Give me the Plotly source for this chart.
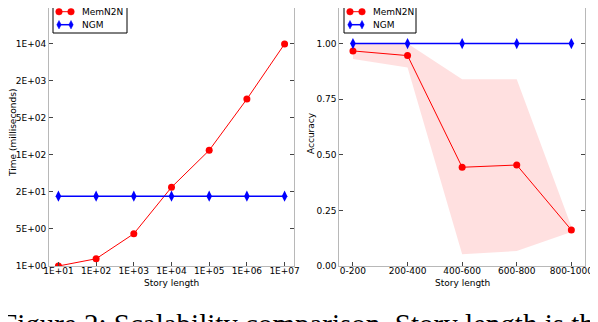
import plotly.graph_objects as go

# ---------------- data ----------------
story_lengths = [1e1, 1e2, 1e3, 1e4, 1e5, 1e6, 1e7]
story_tick_labels = ["1E+01", "1E+02", "1E+03", "1E+04", "1E+05", "1E+06", "1E+07"]
memn2n_time = [1.0, 1.35, 3.8, 26, 120, 1000, 9800]
ngm_time = [18, 18, 18, 18, 18, 18, 18]
time_tick_values = [1, 4.642, 21.54, 100, 464.2, 2154, 10000]
time_tick_labels = ["1E+00", "5E+00", "2E+01", "1E+02", "5E+02", "2E+03", "1E+04"]

buckets = ["0-200", "200-400", "400-600", "600-800", "800-1000"]
memn2n_acc = [0.967, 0.946, 0.444, 0.454, 0.162]
memn2n_acc_upper = [1.0, 1.0, 0.84, 0.84, 0.178]
memn2n_acc_lower = [0.931, 0.892, 0.053, 0.067, 0.153]
ngm_acc = [1.0, 1.0, 1.0, 1.0, 1.0]
acc_tick_values = [0.0, 0.25, 0.5, 0.75, 1.0]
acc_tick_labels = ["0.00", "0.25", "0.50", "0.75", "1.00"]

series_names = ["MemN2N", "NGM"]
caption = "Figure 2: Scalability comparison. Story length is the"

# ---------------- figure ----------------
# The page body has an 8px default margin, so the figure is drawn at (8, 8) in the window.
OFF = 8
W, H = 598 - OFF, 322 - OFF
FONT = "DejaVu Sans"
SERIF = "'Liberation Serif', 'Times New Roman', 'DejaVu Serif', serif"
RED = "#ff0000"
BLUE = "#0000ff"
SPINE = "#b8b8b8"


def px_x(x):
    """window pixel x -> paper fraction"""
    return (x - OFF) / W


def px_y(y):
    """window pixel y -> paper fraction"""
    return (H - (y - OFF)) / H


fig = go.Figure()

# left: time
fig.add_trace(go.Scatter(
    x=story_lengths, y=memn2n_time, mode="lines+markers", name=series_names[0],
    line=dict(color=RED, width=1), marker=dict(color=RED, size=7, symbol="circle"),
    xaxis="x", yaxis="y", showlegend=False))
fig.add_trace(go.Scatter(
    x=story_lengths, y=ngm_time, mode="lines+markers", name=series_names[1],
    line=dict(color=BLUE, width=1.5), marker=dict(color=BLUE, size=8, symbol="diamond-tall"),
    xaxis="x", yaxis="y", showlegend=False))

# right: accuracy band + lines
fig.add_trace(go.Scatter(
    x=buckets + buckets[::-1], y=memn2n_acc_upper + memn2n_acc_lower[::-1],
    mode="lines", fill="toself", fillcolor="rgba(255,0,0,0.12)",
    line=dict(width=0, color="rgba(0,0,0,0)"), hoverinfo="skip", showlegend=False,
    xaxis="x2", yaxis="y2"))
fig.add_trace(go.Scatter(
    x=buckets, y=memn2n_acc, mode="lines+markers", name=series_names[0],
    line=dict(color=RED, width=1), marker=dict(color=RED, size=7, symbol="circle"),
    xaxis="x2", yaxis="y2", showlegend=False))
fig.add_trace(go.Scatter(
    x=buckets, y=ngm_acc, mode="lines+markers", name=series_names[1],
    line=dict(color=BLUE, width=1.5), marker=dict(color=BLUE, size=8, symbol="diamond-tall"),
    xaxis="x2", yaxis="y2", showlegend=False))

axis_common = dict(
    showgrid=False, zeroline=False, showline=True, linecolor=SPINE, linewidth=1,
    ticks="inside", ticklen=4, tickcolor="#444444", tickwidth=1,
    tickfont=dict(family=FONT, size=9, color="#000000"), automargin=False,
)

ydom = [px_y(266), 1.0]

fig.update_layout(
    width=W, height=H,
    margin=dict(l=0, r=0, t=0, b=0, autoexpand=False),
    paper_bgcolor="white", plot_bgcolor="white",
    font=dict(family=FONT, size=9, color="#000000"),
    showlegend=False,
    xaxis=dict(axis_common, type="log", domain=[px_x(49), px_x(294)], range=[0.75, 7.25],
               tickvals=story_lengths, ticktext=story_tick_labels, anchor="y", mirror=False,
               ticklabelstandoff=-4),
    yaxis=dict(axis_common, type="log", domain=ydom, range=[0, 4.637],
               tickvals=time_tick_values, ticktext=time_tick_labels, anchor="x", mirror="ticks"),
    xaxis2=dict(axis_common, type="category", domain=[px_x(339.3), px_x(585)], range=[-0.25, 4.25],
                categoryorder="array", categoryarray=buckets, anchor="y2", mirror=False,
                ticklabelstandoff=-4),
    yaxis2=dict(axis_common, domain=ydom, range=[0, 1.16],
                tickvals=acc_tick_values, ticktext=acc_tick_labels, anchor="x2", mirror="ticks"),
)

# axis titles
annots = [
    dict(text="Time (milliseconds)", x=px_x(13), y=px_y(133), textangle=-90),
    dict(text="Accuracy", x=px_x(311), y=px_y(133), textangle=-90),
    dict(text="Story length", x=px_x(171.5), y=px_y(283)),
    dict(text="Story length", x=px_x(462), y=px_y(283)),
]
for a in annots:
    fig.add_annotation(xref="paper", yref="paper", showarrow=False,
                       xanchor="center", yanchor="middle",
                       font=dict(family=FONT, size=9, color="#000000"), **a)


# ---------- legends (matplotlib style: framed box, two markers per entry) ----------
def add_legend(box_left, box_right):
    fig.add_shape(type="rect", xref="paper", yref="paper", layer="above",
                  x0=px_x(box_left), x1=px_x(box_right), y0=px_y(-3), y1=px_y(33),
                  line=dict(color="#000000", width=1), fillcolor="white")
    styles = [(RED, 1, "circle", 11.7), (BLUE, 1.5, "diamond", 24.7)]
    for name, (color, lw, sym, yc) in zip(series_names, styles):
        lx0, lx1 = box_left + 4.5, box_left + 19.5
        fig.add_shape(type="line", xref="paper", yref="paper", layer="above",
                      x0=px_x(lx0), x1=px_x(lx1), y0=px_y(yc), y1=px_y(yc),
                      line=dict(color=color, width=lw))
        for mx in (lx0 + 1.5, lx1 - 1.5):
            if sym == "circle":
                r = 3.3
                fig.add_shape(type="circle", xref="paper", yref="paper", layer="above",
                              x0=px_x(mx - r), x1=px_x(mx + r), y0=px_y(yc - r), y1=px_y(yc + r),
                              line=dict(color=color, width=0.5), fillcolor=color)
            else:
                hw, hh = 2.2, 4.2
                path = (f"M {px_x(mx)} {px_y(yc - hh)} L {px_x(mx + hw)} {px_y(yc)} "
                        f"L {px_x(mx)} {px_y(yc + hh)} L {px_x(mx - hw)} {px_y(yc)} Z")
                fig.add_shape(type="path", xref="paper", yref="paper", layer="above",
                              path=path, line=dict(color=color, width=0.5), fillcolor=color)
        fig.add_annotation(xref="paper", yref="paper", showarrow=False, text=name,
                           x=px_x(box_left + 27), y=px_y(yc), xanchor="left", yanchor="middle",
                           font=dict(family=FONT, size=9, color="#000000"))


add_legend(53, 127)
add_legend(344, 416)

# caption (cropped at the bottom edge, as in the reference)
fig.add_annotation(xref="paper", yref="paper", showarrow=False, text=caption,
                   x=px_x(0), y=px_y(307), xanchor="left", yanchor="top", borderpad=0,
                   font=dict(family=SERIF, size=29, color="#000000"))

fig.write_html("out.html")
